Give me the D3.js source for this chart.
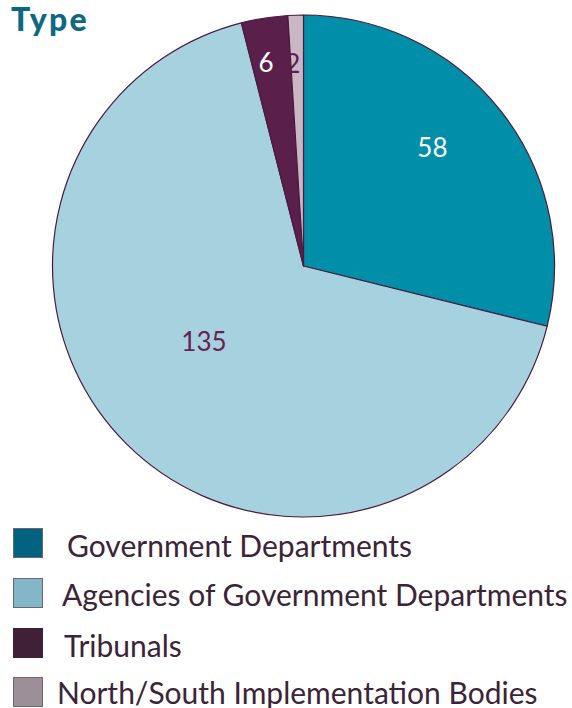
<!DOCTYPE html>
<html>
<head>
<meta charset="utf-8">
<script src="https://cdn.jsdelivr.net/npm/d3@7"></script>
<style>
  html, body { margin: 0; padding: 0; background: #ffffff; }
  svg { display: block; }
</style>
</head>
<body>
<svg id="chart" width="572" height="708"></svg>
<script>
// Bodies by type
const categories = [
  "Government Departments",
  "Agencies of Government Departments",
  "Tribunals",
  "North/South Implementation Bodies"
];
const counts = [58, 135, 6, 2];

const sliceColors  = ["#008ea9", "#a6d2df", "#5b1f4b", "#c9b7c3"];
const swatchColors = ["#02627f", "#83b6c6", "#3e2137", "#9d8f98"];
const labelColors  = ["#ffffff", "#6a1f52", "#ffffff", "#5b1f4b"];

const svg = d3.select("#chart");
const font = "Lato, 'Noto Sans', sans-serif";
const ink = "#3b2438";

// Title
svg.append("text")
  .attr("x", 11).attr("y", 31)
  .attr("font-family", font).attr("font-weight", 900)
  .attr("font-size", 32).attr("letter-spacing", 2.2)
  .attr("fill", "#0d6883")
  .text("Type");

// Pie
const cx = 303.5, cy = 266, R = 251;
const pie = d3.pie().sort(null).value(d => d)(counts);
const arc = d3.arc().innerRadius(0).outerRadius(R);

const g = svg.append("g").attr("transform", `translate(${cx},${cy})`);
g.selectAll("path.slice")
  .data(pie)
  .join("path")
  .attr("class", "slice")
  .attr("d", arc)
  .attr("fill", (d, i) => sliceColors[i])
  .attr("stroke", "#4b1a40")
  .attr("stroke-width", 1.2)
  .attr("stroke-linejoin", "round");

// Value labels: angle offset (deg) from each slice's middle, and distance from centre
const labelPlace = [
  { dAng: -4.5, r: 175 },
  { dAng: 8, r: 125 },
  { dAng: -1.5, r: 207 },
  { dAng: -1.2, r: 203 }
];
g.selectAll("text.val")
  .data(pie)
  .join("text")
  .attr("class", "val")
  .attr("transform", (d, i) => {
    const a = (d.startAngle + d.endAngle) / 2 + labelPlace[i].dAng * Math.PI / 180;
    const r = labelPlace[i].r;
    return `translate(${r * Math.sin(a)},${-r * Math.cos(a)})`;
  })
  .attr("text-anchor", "middle")
  .attr("dy", "0.36em")
  .attr("font-family", font)
  .attr("font-size", 26)
  .attr("fill", (d, i) => labelColors[i])
  .text(d => d.data);

// Legend
const legendRows = [
  { sy: 528, ty: 557, tx: 67 },
  { sy: 578, ty: 606, tx: 62 },
  { sy: 628, ty: 657, tx: 64 },
  { sy: 677, ty: 704, tx: 57 }
];
const legend = svg.append("g");
legend.selectAll("rect")
  .data(categories)
  .join("rect")
  .attr("x", 13.5)
  .attr("y", (d, i) => legendRows[i].sy + 0.5)
  .attr("width", 29).attr("height", 29)
  .attr("fill", (d, i) => swatchColors[i])
  .attr("stroke", (d, i) => i === 2 ? swatchColors[i] : "#6d6570")
  .attr("stroke-width", 1);
legend.selectAll("text")
  .data(categories)
  .join("text")
  .attr("x", (d, i) => legendRows[i].tx)
  .attr("y", (d, i) => legendRows[i].ty)
  .attr("font-family", font)
  .attr("font-size", 30)
  .attr("fill", ink)
  .text(d => d);
</script>
</body>
</html>
